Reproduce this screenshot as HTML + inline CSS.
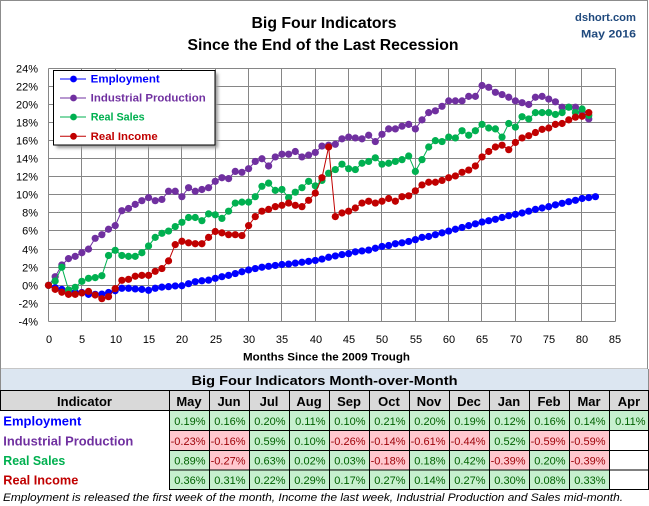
<!DOCTYPE html>
<html><head><meta charset="utf-8"><style>html,body{margin:0;padding:0;background:#fff}svg{display:block}text{font-family:"Liberation Sans",sans-serif}</style></head>
<body>
<svg width="649" height="506" viewBox="0 0 649 506" xmlns="http://www.w3.org/2000/svg">
<defs>
<marker id="mb" markerUnits="userSpaceOnUse" markerWidth="2" markerHeight="2" refX="0" refY="0" overflow="visible"><ellipse rx="0.54" ry="0.398" fill="#0000ff"/></marker>
<marker id="mp" markerUnits="userSpaceOnUse" markerWidth="2" markerHeight="2" refX="0" refY="0" overflow="visible"><ellipse rx="0.54" ry="0.398" fill="#7030a0"/></marker>
<marker id="mg" markerUnits="userSpaceOnUse" markerWidth="2" markerHeight="2" refX="0" refY="0" overflow="visible"><ellipse rx="0.54" ry="0.398" fill="#00b050"/></marker>
<marker id="mr" markerUnits="userSpaceOnUse" markerWidth="2" markerHeight="2" refX="0" refY="0" overflow="visible"><ellipse rx="0.54" ry="0.398" fill="#c00000"/></marker>
<filter id="sh" x="-10%" y="-10%" width="130%" height="140%"><feGaussianBlur stdDeviation="1.6"/></filter>
</defs>
<rect x="0" y="0" width="649" height="506" fill="#fff"/>
<!-- chart frame -->
<rect x="0.5" y="0.5" width="647" height="368.5" fill="#fff" stroke="#8c8c8c" stroke-width="1"/>
<!-- titles -->
<text x="324" y="28" font-size="16" font-weight="bold" text-anchor="middle" textLength="145" lengthAdjust="spacingAndGlyphs">Big Four Indicators</text>
<text x="323" y="50" font-size="16" font-weight="bold" text-anchor="middle" textLength="271" lengthAdjust="spacingAndGlyphs">Since the End of the Last Recession</text>
<text x="636" y="21" font-size="11" font-weight="bold" fill="#1f497d" text-anchor="end" textLength="61" lengthAdjust="spacingAndGlyphs">dshort.com</text>
<text x="636" y="37.5" font-size="11" font-weight="bold" fill="#1f497d" text-anchor="end" textLength="55" lengthAdjust="spacingAndGlyphs">May  2016</text>
<!-- gridlines -->
<g stroke="#868686" stroke-width="1" fill="none">
<path d="M48.5 68.5V321.5M81.5 68.5V321.5M115.5 68.5V321.5M148.5 68.5V321.5M181.5 68.5V321.5M215.5 68.5V321.5M248.5 68.5V321.5M281.5 68.5V321.5M315.5 68.5V321.5M348.5 68.5V321.5M381.5 68.5V321.5M415.5 68.5V321.5M448.5 68.5V321.5M481.5 68.5V321.5M515.5 68.5V321.5M548.5 68.5V321.5M581.5 68.5V321.5M615.5 68.5V321.5"/>
<path d="M48.5 68.5H615.5M48.5 86.5H615.5M48.5 104.5H615.5M48.5 122.5H615.5M48.5 140.5H615.5M48.5 158.5H615.5M48.5 176.5H615.5M48.5 194.5H615.5M48.5 212.5H615.5M48.5 230.5H615.5M48.5 249.5H615.5M48.5 267.5H615.5M48.5 285.5H615.5M48.5 303.5H615.5M48.5 321.5H615.5"/>
</g>
<!-- y labels -->
<g font-size="11" fill="#000" text-anchor="end">
<text x="38" y="72.5">24%</text><text x="38" y="90.5">22%</text><text x="38" y="108.5">20%</text><text x="38" y="126.5">18%</text><text x="38" y="144.5">16%</text><text x="38" y="162.5">14%</text><text x="38" y="180.5">12%</text><text x="38" y="198.5">10%</text><text x="38" y="216.5">8%</text><text x="38" y="234.5">6%</text><text x="38" y="253.5">4%</text><text x="38" y="271.5">2%</text><text x="38" y="289.5">0%</text><text x="38" y="307.5">-2%</text><text x="38" y="325.5">-4%</text>
</g>
<!-- x labels -->
<g font-size="11" fill="#000" text-anchor="middle">
<text x="49" y="343">0</text><text x="82" y="343">5</text><text x="116" y="343">10</text><text x="149" y="343">15</text><text x="182" y="343">20</text><text x="216" y="343">25</text><text x="249" y="343">30</text><text x="282" y="343">35</text><text x="316" y="343">40</text><text x="349" y="343">45</text><text x="382" y="343">50</text><text x="416" y="343">55</text><text x="449" y="343">60</text><text x="482" y="343">65</text><text x="516" y="343">70</text><text x="549" y="343">75</text><text x="582" y="343">80</text><text x="615" y="343">85</text>
</g>
<text x="243" y="360.5" font-size="11" font-weight="bold" textLength="167" lengthAdjust="spacingAndGlyphs">Months Since the 2009 Trough</text>
<!-- series -->
<g transform="translate(48.5,285.3) scale(6.67,-9.04)" fill="none" stroke-width="1">
<polyline vector-effect="non-scaling-stroke" stroke="#0000ff" marker-start="url(#mb)" marker-mid="url(#mb)" marker-end="url(#mb)" points="0,0 1,-0.26 2,-0.45 3,-0.6 4,-0.75 5,-0.8 6,-1 7,-1 8,-0.97 9,-0.8 10,-0.6 11,-0.33 12,-0.33 13,-0.4 14,-0.45 15,-0.55 16,-0.33 17,-0.2 18,-0.15 19,-0.07 20,-0.05 21,0.18 22,0.4 23,0.5 24,0.57 25,0.77 26,0.95 27,1.1 28,1.3 29,1.5 30,1.7 31,1.85 32,2 33,2.1 34,2.2 35,2.3 36,2.35 37,2.45 38,2.55 39,2.65 40,2.75 41,2.9 42,3.1 43,3.25 44,3.4 45,3.5 46,3.7 47,3.8 48,3.9 49,4.1 50,4.3 51,4.4 52,4.6 53,4.7 54,4.85 55,5.05 56,5.3 57,5.4 58,5.6 59,5.8 60,6 61,6.2 62,6.4 63,6.6 64,6.8 65,7 66,7.15 67,7.3 68,7.5 69,7.7 70,7.85 71,8 72,8.2 73,8.4 74,8.55 75,8.7 76,8.9 77,9.07 78,9.25 79,9.4 80,9.6 81,9.7 82,9.8"/>
<polyline vector-effect="non-scaling-stroke" stroke="#7030a0" marker-start="url(#mp)" marker-mid="url(#mp)" marker-end="url(#mp)" points="0,0 1,0.95 2,2.25 3,2.95 4,3.2 5,3.6 6,4 7,5.2 8,5.6 9,6.2 10,6.6 11,8.25 12,8.5 13,8.95 14,9.36 15,9.7 16,9.36 17,9.5 18,10.4 19,10.4 20,9.8 21,10.8 22,10.4 23,10.6 24,10.8 25,11.5 26,11.9 27,11.8 28,12.6 29,12.5 30,12.9 31,13.7 32,14 33,13.2 34,14.2 35,14.5 36,14.5 37,14.8 38,14.2 39,14.4 40,14.7 41,15.4 42,15.5 43,15.6 44,16.2 45,16.4 46,16.3 47,16.2 48,16.6 49,15.9 50,16.7 51,17.3 52,17.3 53,17.6 54,17.8 55,17.3 56,18.3 57,19.1 58,19.3 59,19.8 60,20.4 61,20.4 62,20.4 63,20.9 64,20.9 65,22.1 66,21.9 67,21.35 68,21.1 69,20.8 70,20.4 71,20.2 72,20 73,20.8 74,20.9 75,20.6 76,20.3 77,19.7 78,19.7 79,19.7 80,19.2 81,18.4"/>
<polyline vector-effect="non-scaling-stroke" stroke="#00b050" marker-start="url(#mg)" marker-mid="url(#mg)" marker-end="url(#mg)" points="0,0 1,0.48 2,2 3,-0.5 4,-0.22 5,0.44 6,0.77 7,0.85 8,1.06 9,3.3 10,3.87 11,3.3 12,3.2 13,3.2 14,3.6 15,4.35 16,5.3 17,5.75 18,6 19,6.5 20,6.97 21,7.5 22,7.5 23,7.15 24,7.9 25,7.8 26,7.4 27,8.2 28,9.1 29,9.2 30,9.2 31,9.8 32,10.95 33,11.3 34,10.5 35,10.6 36,9.7 37,10.3 38,10.8 39,11.5 40,11 41,11.6 42,12.4 43,12.8 44,13.4 45,12.9 46,12.8 47,13.5 48,13.7 49,14.1 50,13.4 51,13.5 52,13.7 53,13.9 54,14.3 55,12.6 56,13.9 57,15.3 58,16 59,15.9 60,16.4 61,16.3 62,17.1 63,16.6 64,17.1 65,17.8 66,17.4 67,17.3 68,16.4 69,17.9 70,17.5 71,18.65 72,18.4 73,19.1 74,19.1 75,19.1 76,18.9 77,19.1 78,19.7 79,19.1 80,19.5 81,18.8"/>
<polyline vector-effect="non-scaling-stroke" stroke="#c00000" marker-start="url(#mr)" marker-mid="url(#mr)" marker-end="url(#mr)" points="0,0 1,-0.45 2,-0.77 3,-1 4,-1 5,-0.85 6,-0.67 7,-1.07 8,-1.48 9,-1.26 10,-0.37 11,0.55 12,0.66 13,1 14,1.1 15,1.1 16,1.55 17,1.85 18,2.7 19,4.5 20,4.87 21,4.7 22,4.6 23,4.6 24,5.3 25,5.95 26,5.8 27,5.6 28,5.6 29,5.5 30,6.6 31,7.6 32,8.2 33,8.4 34,8.7 35,8.85 36,9.1 37,8.85 38,8.7 39,9.4 40,10.2 41,11.9 42,15.3 43,7.6 44,8 45,8.2 46,8.55 47,9.1 48,9.3 49,9.1 50,9.3 51,9.6 52,9.3 53,9.8 54,9.9 55,10.45 56,11.1 57,11.4 58,11.4 59,11.6 60,11.9 61,12.1 62,12.5 63,12.75 64,13.2 65,14.2 66,14.8 67,15.3 68,15.5 69,15 70,15.8 71,16.3 72,16.55 73,16.9 74,17.25 75,17.4 76,17.8 77,17.9 78,18.3 79,18.6 80,18.7 81,19.1"/>
</g>
<!-- legend -->
<rect x="56.5" y="73.5" width="161.5" height="74.5" fill="#9a9a9a" filter="url(#sh)"/>
<rect x="53.5" y="70.5" width="161.5" height="74.5" fill="#fff" stroke="#000" stroke-width="1"/>
<g stroke-width="1">
<line x1="60" y1="79" x2="86" y2="79" stroke="#0000ff"/><circle cx="73.5" cy="79" r="3.4" fill="#0000ff"/>
<line x1="60" y1="98" x2="86" y2="98" stroke="#7030a0"/><circle cx="73.5" cy="98" r="3.4" fill="#7030a0"/>
<line x1="60" y1="117" x2="86" y2="117" stroke="#00b050"/><circle cx="73.5" cy="117" r="3.4" fill="#00b050"/>
<line x1="60" y1="136.3" x2="86" y2="136.3" stroke="#c00000"/><circle cx="73.5" cy="136.3" r="3.4" fill="#c00000"/>
</g>
<g font-size="11" font-weight="bold">
<text x="90.7" y="82.7" fill="#0000ff" textLength="69" lengthAdjust="spacingAndGlyphs">Employment</text>
<text x="90.7" y="101.7" fill="#7030a0" textLength="115" lengthAdjust="spacingAndGlyphs">Industrial Production</text>
<text x="90.7" y="120.7" fill="#00b050" textLength="54" lengthAdjust="spacingAndGlyphs">Real Sales</text>
<text x="90.7" y="140" fill="#c00000" textLength="67" lengthAdjust="spacingAndGlyphs">Real Income</text>
</g>
<!-- table -->
<rect x="0" y="369" width="649" height="21.5" fill="#dce6f1"/>
<line x1="0.5" y1="369" x2="0.5" y2="390.5" stroke="#8c8c8c"/>
<line x1="648.5" y1="369" x2="648.5" y2="390.5" stroke="#8c8c8c"/>
<text x="324.5" y="385" font-size="13" font-weight="bold" text-anchor="middle" textLength="266" lengthAdjust="spacingAndGlyphs">Big Four Indicators Month-over-Month</text>
<rect x="0" y="390.5" width="649" height="20" fill="#d9d9d9"/>
<g font-size="13" font-weight="bold" text-anchor="middle">
<text x="84.5" y="406">Indicator</text>
<text x="189" y="406">May</text><text x="229" y="406">Jun</text><text x="269" y="406">Jul</text><text x="309" y="406">Aug</text><text x="349" y="406">Sep</text><text x="389" y="406">Oct</text><text x="429" y="406">Nov</text><text x="469" y="406">Dec</text><text x="509" y="406">Jan</text><text x="549" y="406">Feb</text><text x="589" y="406">Mar</text><text x="629" y="406">Apr</text>
</g>
<!-- cell fills -->
<g>
<!-- Employment row -->
<rect x="169" y="410.5" width="480" height="20" fill="#c6efce"/>
<!-- IP row -->
<rect x="169" y="430.5" width="80" height="20" fill="#ffc7ce"/>
<rect x="249" y="430.5" width="80" height="20" fill="#c6efce"/>
<rect x="329" y="430.5" width="160" height="20" fill="#ffc7ce"/>
<rect x="489" y="430.5" width="40" height="20" fill="#c6efce"/>
<rect x="529" y="430.5" width="80" height="20" fill="#ffc7ce"/>
<!-- RS row -->
<rect x="169" y="450.5" width="40" height="19.5" fill="#c6efce"/>
<rect x="209" y="450.5" width="40" height="19.5" fill="#ffc7ce"/>
<rect x="249" y="450.5" width="120" height="19.5" fill="#c6efce"/>
<rect x="369" y="450.5" width="40" height="19.5" fill="#ffc7ce"/>
<rect x="409" y="450.5" width="80" height="19.5" fill="#c6efce"/>
<rect x="489" y="450.5" width="40" height="19.5" fill="#ffc7ce"/>
<rect x="529" y="450.5" width="40" height="19.5" fill="#c6efce"/>
<rect x="569" y="450.5" width="40" height="19.5" fill="#ffc7ce"/>
<!-- RI row -->
<rect x="169" y="470" width="440" height="19.5" fill="#c6efce"/>
</g>
<!-- borders -->
<g stroke="#000" stroke-width="1" fill="none">
<path d="M0 390.5H649M0 410.5H649M169 430.5H649M169 450.5H649M169 470H649M169 489.5H649"/>
<path d="M0.5 390.5V410.5M169.5 390.5V489.5M209.5 390.5V489.5M249.5 390.5V489.5M289.5 390.5V489.5M329.5 390.5V489.5M369.5 390.5V489.5M409.5 390.5V489.5M449.5 390.5V489.5M489.5 390.5V489.5M529.5 390.5V489.5M569.5 390.5V489.5M609.5 390.5V489.5M648.5 390.5V489.5"/>
</g>
<!-- row labels -->
<g font-size="13" font-weight="bold">
<text x="3.3" y="425.5" fill="#0000ff" textLength="78" lengthAdjust="spacingAndGlyphs">Employment</text>
<text x="3.3" y="445.5" fill="#7030a0" textLength="130" lengthAdjust="spacingAndGlyphs">Industrial Production</text>
<text x="3.3" y="465" fill="#00b050" textLength="62" lengthAdjust="spacingAndGlyphs">Real Sales</text>
<text x="3.3" y="484.5" fill="#c00000" textLength="75" lengthAdjust="spacingAndGlyphs">Real Income</text>
</g>
<!-- values -->
<g font-size="11" text-anchor="end" fill="#006100">
<text x="205.5" y="425">0.19%</text><text x="245.5" y="425">0.16%</text><text x="285.5" y="425">0.20%</text><text x="325.5" y="425">0.11%</text><text x="365.5" y="425">0.10%</text><text x="405.5" y="425">0.21%</text><text x="445.5" y="425">0.20%</text><text x="485.5" y="425">0.19%</text><text x="525.5" y="425">0.12%</text><text x="565.5" y="425">0.16%</text><text x="605.5" y="425">0.14%</text><text x="645.5" y="425">0.11%</text>
<text x="205.5" y="445" fill="#9c0006">-0.23%</text><text x="245.5" y="445" fill="#9c0006">-0.16%</text><text x="285.5" y="445">0.59%</text><text x="325.5" y="445">0.10%</text><text x="365.5" y="445" fill="#9c0006">-0.26%</text><text x="405.5" y="445" fill="#9c0006">-0.14%</text><text x="445.5" y="445" fill="#9c0006">-0.61%</text><text x="485.5" y="445" fill="#9c0006">-0.44%</text><text x="525.5" y="445">0.52%</text><text x="565.5" y="445" fill="#9c0006">-0.59%</text><text x="605.5" y="445" fill="#9c0006">-0.59%</text>
<text x="205.5" y="464.5">0.89%</text><text x="245.5" y="464.5" fill="#9c0006">-0.27%</text><text x="285.5" y="464.5">0.63%</text><text x="325.5" y="464.5">0.02%</text><text x="365.5" y="464.5">0.03%</text><text x="405.5" y="464.5" fill="#9c0006">-0.18%</text><text x="445.5" y="464.5">0.18%</text><text x="485.5" y="464.5">0.42%</text><text x="525.5" y="464.5" fill="#9c0006">-0.39%</text><text x="565.5" y="464.5">0.20%</text><text x="605.5" y="464.5" fill="#9c0006">-0.39%</text>
<text x="205.5" y="484">0.36%</text><text x="245.5" y="484">0.31%</text><text x="285.5" y="484">0.22%</text><text x="325.5" y="484">0.29%</text><text x="365.5" y="484">0.17%</text><text x="405.5" y="484">0.27%</text><text x="445.5" y="484">0.14%</text><text x="485.5" y="484">0.27%</text><text x="525.5" y="484">0.30%</text><text x="565.5" y="484">0.08%</text><text x="605.5" y="484">0.33%</text>
</g>
<text x="3" y="501" font-size="11" font-style="italic" textLength="620" lengthAdjust="spacingAndGlyphs">Employment is released the first week of the month, Income the last week, Industrial Production and Sales mid-month.</text>
</svg>
</body></html>
